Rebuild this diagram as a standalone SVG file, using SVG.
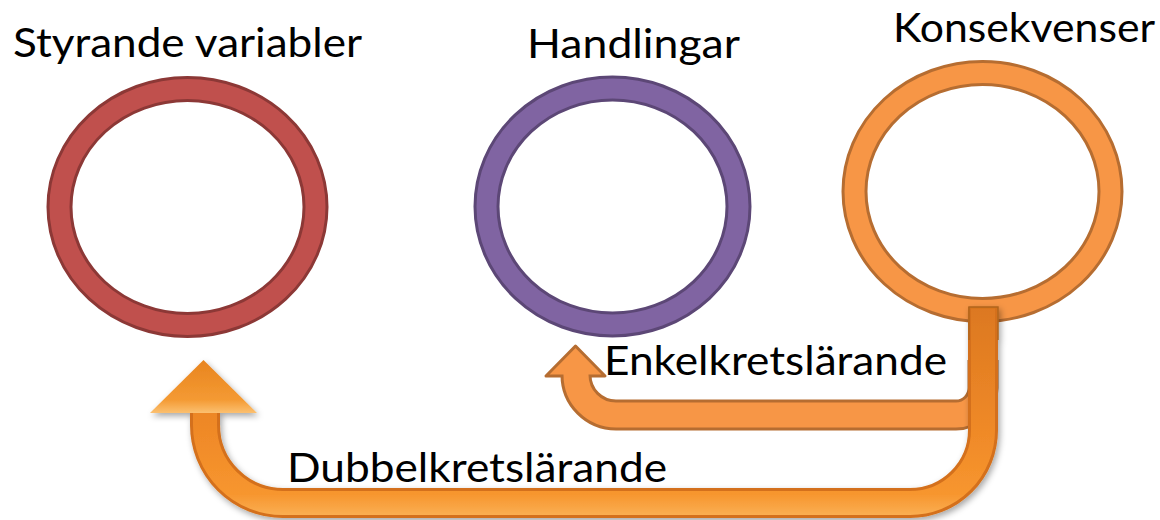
<svg xmlns="http://www.w3.org/2000/svg" width="1160" height="520" viewBox="0 0 1160 520">
  <style>
    .lbl { font-family: Lato, "Liberation Sans", sans-serif; font-size: 40px; fill: #000; }
    .ring-o { fill: none; stroke-width: 26; }
    .ring-i { fill: none; stroke-width: 20; }
  </style>
  <defs>
    <linearGradient id="bigG" gradientUnits="userSpaceOnUse" x1="0" y1="307" x2="0" y2="520">
      <stop offset="0" stop-color="#DC7820"/>
      <stop offset="0.6" stop-color="#F08A28"/>
      <stop offset="0.88" stop-color="#F7962F"/>
      <stop offset="1" stop-color="#FBB45A"/>
    </linearGradient>
    <linearGradient id="headG" x1="0" y1="0" x2="0" y2="1">
      <stop offset="0" stop-color="#E8841F"/>
      <stop offset="0.75" stop-color="#F49A33"/>
      <stop offset="1" stop-color="#FBC070"/>
    </linearGradient>
    <filter id="shadow" x="-10%" y="-10%" width="120%" height="130%">
      <feDropShadow dx="2" dy="3" stdDeviation="3" flood-color="#000" flood-opacity="0.35"/>
    </filter>
  </defs>

  <g id="node-styrande">
    <ellipse class="ring-o" cx="187.5" cy="207" rx="128" ry="118" stroke="#8C3836"/>
    <ellipse class="ring-i" cx="187.5" cy="207" rx="128" ry="118" stroke="#C0504D"/>
    <text class="lbl" x="13" y="57" textLength="349" lengthAdjust="spacingAndGlyphs">Styrande variabler</text>
  </g>

  <g id="node-handlingar">
    <ellipse class="ring-o" cx="612.5" cy="206.5" rx="126" ry="118" stroke="#5C4776"/>
    <ellipse class="ring-i" cx="612.5" cy="206.5" rx="126" ry="118" stroke="#8064A2"/>
    <text class="lbl" x="527" y="58" textLength="213" lengthAdjust="spacingAndGlyphs">Handlingar</text>
  </g>

  <g id="node-konsekvenser">
    <ellipse class="ring-o" cx="982.5" cy="191.5" rx="128" ry="118.5" stroke="#B66D31"/>
    <ellipse class="ring-i" cx="982.5" cy="191.5" rx="128" ry="118.5" stroke="#F79646"/>
    <text class="lbl" x="893" y="42" textLength="262" lengthAdjust="spacingAndGlyphs">Konsekvenser</text>
  </g>

  <g id="connectors">
    <g id="enkel">
      <path d="M 983 360 L 983 388 A 27 27 0 0 1 956 415 L 616 415 A 40 40 0 0 1 576 375 L 576 372" fill="none" stroke="#B66D31" stroke-width="31"/>
      <polygon points="546,376 575.5,346 605,376" fill="#F79646" stroke="#B66D31" stroke-width="3" stroke-linejoin="round"/>
      <path d="M 983 360 L 983 388 A 27 27 0 0 1 956 415 L 616 415 A 40 40 0 0 1 576 375 L 576 371" fill="none" stroke="#F79646" stroke-width="25"/>
      <text class="lbl" x="604" y="375" textLength="343" lengthAdjust="spacingAndGlyphs">Enkelkretslärande</text>
    </g>
    <g id="dubbel" filter="url(#shadow)">
      <path d="M 983 307 L 983 430 A 73 73 0 0 1 910 503 L 283 503 A 78 78 0 0 1 205 425 L 205 410" fill="none" stroke="#D4701A" stroke-width="30"/>
      <path d="M 983 308.5 L 983 430 A 73 73 0 0 1 910 503 L 283 503 A 78 78 0 0 1 205 425 L 205 410" fill="none" stroke="url(#bigG)" stroke-width="24"/>
      <path d="M 969 340 L 969 307 L 998 307 L 998 340" fill="none" stroke="#B0641E" stroke-width="1.5"/>
      <polygon points="150,413 203.5,360 257,413" fill="url(#headG)"/>
    </g>
    <text class="lbl" x="287" y="482" textLength="380" lengthAdjust="spacingAndGlyphs">Dubbelkretslärande</text>
  </g>
</svg>
